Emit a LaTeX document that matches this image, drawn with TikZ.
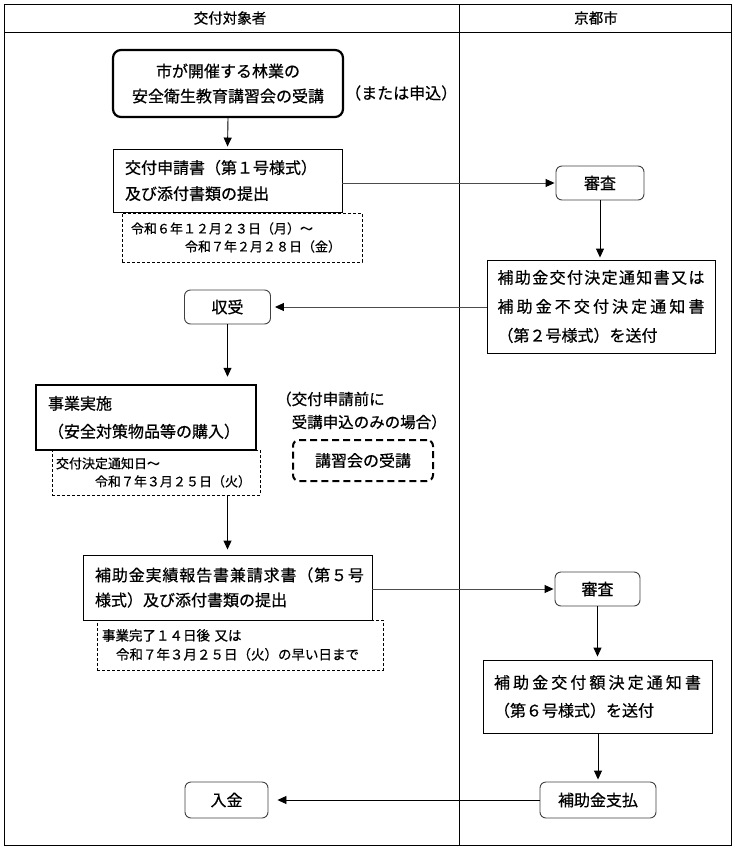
\documentclass[tikz,border=0pt]{standalone}
\usepackage{fontspec}
\newfontfamily\jp[FakeBold=0.6]{Noto Sans CJK JP}
\usetikzlibrary{arrows.meta}
\makeatletter
\newcommand\spr[2]{\makebox[#1][s]{\@tfor\spr@c:=#2\do{\spr@c\hfill}\unskip}}
\makeatother
\begin{document}
\begin{tikzpicture}[x=1pt,y=-1pt,
  every node/.style={font=\jp\fontsize{16}{26}\selectfont, inner sep=0pt},
  frame/.style={line width=1pt},
  sbox/.style={draw, line width=0.9pt, fill=white, align=left},
  rbox/.style={draw=black!75, line width=0.9pt, rounded corners=6pt, fill=white, align=center},
  tbox/.style={draw, line width=2.2pt, rounded corners=8pt, fill=white, align=center},
  dbox/.style={draw, line width=0.7pt, dash pattern=on 3pt off 2pt, align=left, font=\jp\fontsize{13}{18}\selectfont},
  note/.style={align=left},
  arr/.style={-{Triangle[length=9pt,width=8pt]}, line width=0.9pt},
  garr/.style={arr, draw=black!70, -{Triangle[length=9pt,width=8pt,color=black]}}
]
\useasboundingbox (0,0) rectangle (734,849);
% frame
\draw[frame] (4,4) rectangle (731,845);
\draw[frame] (4,32) -- (731,32);
\draw[frame] (459,4) -- (459,845);
\node[font=\jp\fontsize{14.5}{18}\selectfont] (h1) at (230,18) {交付対象者};
\node[font=\jp\fontsize{14.5}{18}\selectfont] (h2) at (596,18) {京都市};

% left column
\node[tbox, minimum width=230pt, minimum height=67pt, font=\jp\fontsize{16}{25}\selectfont] (n1) at (228,83.5) {市が開催する林業の\\安全衛生教育講習会の受講};
\node[note, anchor=west] (m1) at (345,93) {（または申込）};

\node[dbox, minimum width=240pt, minimum height=49pt, text width=222pt] (d1) at (242,237.5)
  {令和６年１２月２３日（月）～\\\hspace*{54pt}令和７年２月２８日（金）};
\node[sbox, minimum width=229pt, minimum height=63pt, text width=205pt, font=\jp\fontsize{16}{26}\selectfont] (n2) at (227.5,180.5)
  {交付申請書（第１号様式）\\及び添付書類の提出};

\node[rbox, minimum width=86pt, minimum height=34pt] (r1) at (227.5,307) {収受};

\node[dbox, minimum width=208pt, minimum height=45pt, text width=200pt] (d2) at (156,472.5)
  {交付決定通知日～\\\hspace*{39pt}令和７年３月２５日（火）};
\node[draw, line width=2.5pt, fill=white, align=left, minimum width=220pt, minimum height=65pt, text width=196pt, font=\jp\fontsize{16}{28}\selectfont] (n4) at (146,417.5)
  {事業実施\\（安全対策物品等の購入）};

\node[note, anchor=west, font=\jp\fontsize{15.5}{23}\selectfont] (m2) at (276,410.5)
  {（交付申請前に\\\hspace*{15.5pt}受講申込のみの場合）};
\node[draw, line width=2pt, dash pattern=on 7pt off 4pt, rounded corners=6pt, minimum width=140pt, minimum height=41pt] (d3) at (363,460.5) {講習会の受講};

\node[dbox, minimum width=286pt, minimum height=50pt, text width=276pt, font=\jp\fontsize{13.5}{19}\selectfont] (d4) at (240,645)
  {事業完了１４日後 又は\\\hspace*{14pt}令和７年３月２５日（火）の早い日まで};
\node[sbox, minimum width=289pt, minimum height=65pt, text width=265pt, font=\jp\fontsize{16}{25}\selectfont] (n5) at (227.5,587.5)
  {\spr{269pt}{補助金実績報告書兼請求書（第５号}\\様式）及び添付書類の提出};

\node[rbox, minimum width=83pt, minimum height=36pt] (r2) at (226.5,800) {入金};

% right column
\node[rbox, minimum width=88pt, minimum height=34pt] (s1) at (600,183) {審査};
\node[sbox, minimum width=228pt, minimum height=93pt, text width=207pt, font=\jp\fontsize{16}{29}\selectfont] (n3) at (601,306.5)
  {\spr{207pt}{補助金交付決定通知書又は}\\\spr{207pt}{補助金不交付決定通知書}\\（第２号様式）を送付};
\node[rbox, minimum width=85pt, minimum height=34pt] (s2) at (597.5,589) {審査};
\node[sbox, minimum width=229pt, minimum height=73pt, text width=207pt, font=\jp\fontsize{16}{28}\selectfont] (n6) at (597.5,696.5)
  {\spr{207pt}{補助金交付額決定通知書}\\（第６号様式）を送付};
\node[rbox, minimum width=116pt, minimum height=36pt] (s3) at (598,800) {補助金支払};

% connectors
\draw[arr, shorten >=2pt] (n1.south) -- (n2.north);
\draw[garr, shorten >=1pt] (n2.east |- s1.west) -- (s1.west);
\draw[arr, shorten >=2pt] (s1.south) -- (s1.south |- n3.north);
\draw[garr, shorten >=4pt] (n3.west |- r1.east) -- (r1.east);
\draw[arr, shorten >=7pt] (r1.south) -- (r1.south |- n4.north);
\draw[arr, shorten >=5pt] (d2.south -| r1.south) -- (n5.north -| r1.south);
\draw[garr, shorten >=1pt] (n5.east |- s2.west) -- (s2.west);
\draw[arr, shorten >=3pt] (s2.south) -- (s2.south |- n6.north);
\draw[arr, shorten >=2pt] (n6.south -| s3.north) -- (s3.north);
\draw[arr, shorten >=9pt] (s3.west) -- (r2.east);
\end{tikzpicture}
\end{document}
